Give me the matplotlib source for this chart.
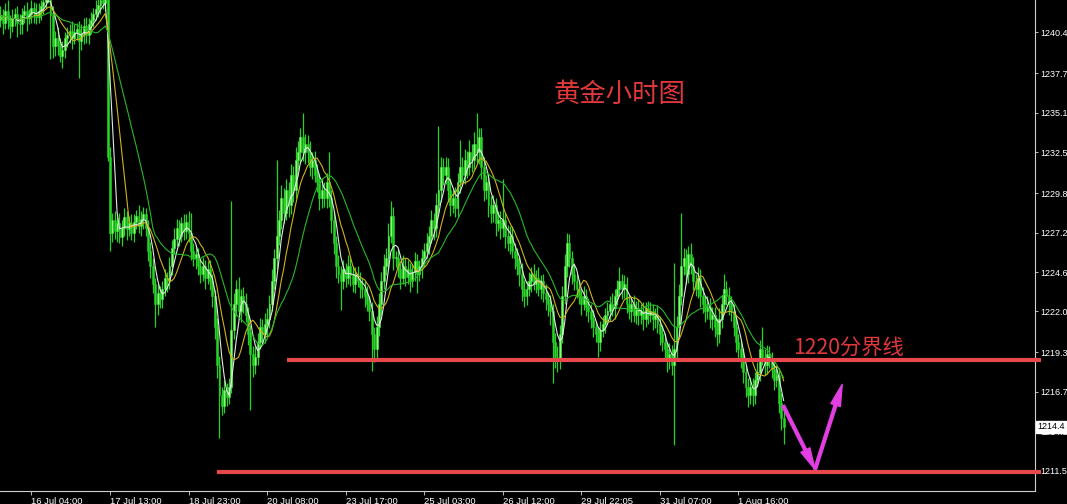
import numpy as np
import pandas as pd
import matplotlib
matplotlib.use("Agg")
import matplotlib.pyplot as plt

# ---------------- data (hourly gold) ----------------
first_open = 1241.2
closes = [
    1241.5, 1241.0, 1241.8, 1241.2, 1240.8, 1241.3, 1241.6, 1241.0, 1240.9,
    1241.5, 1241.8, 1241.3, 1241.6, 1242.0, 1241.7, 1241.4, 1241.8, 1242.1, 1242.4,
    1242.8, 1243.2,
    1241.5, 1239.5, 1240.0,
    1239.5, 1238.8, 1239.2, 1240.0,
    1240.2, 1240.5, 1240.0, 1240.4,
    1240.6, 1239.8, 1240.3,
    1240.8, 1240.2, 1240.9,
    1241.2, 1241.6, 1241.9,
    1242.2, 1242.5, 1242.3, 1242.6,
    1232.2, 1227.2,
    1228.0, 1227.3, 1227.8, 1226.9, 1227.5, 1228.2, 1227.4, 1227.8,
    1227.2, 1227.9, 1228.3, 1227.6, 1228.1, 1228.4, 1227.5,
    1226.0, 1225.0,
    1223.8, 1222.5, 1223.2, 1222.8,
    1223.5, 1224.2, 1224.0,
    1225.0, 1226.2, 1226.8,
    1227.5, 1227.0, 1227.8, 1227.3, 1227.9, 1227.2,
    1226.0, 1225.5, 1225.8, 1225.0,
    1224.5, 1225.0, 1224.2, 1224.8, 1224.0,
    1223.0, 1221.0, 1218.5,
    1216.5, 1215.8, 1216.8,
    1216.4, 1217.0,
    1220.8,
    1222.5, 1223.5, 1222.0, 1223.0, 1222.5, 1221.8, 1220.5,
    1219.2, 1218.5, 1219.0, 1220.0,
    1221.0, 1220.5, 1221.2,
    1221.5, 1222.5, 1224.0,
    1225.5, 1227.0, 1228.0,
    1229.5, 1228.5, 1230.0, 1229.0,
    1231.0, 1230.0, 1232.0, 1232.5,
    1233.5, 1232.5, 1233.0,
    1232.5, 1231.5, 1232.0, 1231.0,
    1230.5, 1229.5, 1230.0, 1229.5,
    1230.5, 1229.5, 1228.0,
    1226.5, 1225.0, 1224.5,
    1224.0, 1224.8, 1224.2, 1225.0, 1224.4, 1223.8, 1224.5, 1224.0, 1223.6,
    1223.5, 1223.0, 1222.5, 1222.0,
    1220.5, 1219.5, 1221.0,
    1222.5, 1224.0, 1225.0,
    1225.5, 1227.0, 1228.3, 1225.5,
    1225.5, 1224.8, 1224.2, 1225.0, 1224.3, 1224.8, 1224.0, 1224.6, 1225.3, 1224.5, 1225.0,
    1225.5, 1226.0, 1226.5,
    1227.0, 1228.0, 1227.5, 1229.0,
    1230.0, 1231.5, 1231.0,
    1231.5, 1230.0, 1229.0, 1229.5, 1228.8,
    1230.5, 1231.5, 1231.0,
    1232.0, 1231.5, 1232.5, 1232.0,
    1233.0, 1232.5, 1233.5,
    1231.5, 1230.0, 1230.5, 1229.0,
    1228.5, 1229.0, 1227.8, 1228.0,
    1227.5, 1228.0, 1227.0, 1226.5, 1227.0,
    1226.0, 1225.5, 1225.0, 1224.5,
    1223.5, 1223.0,
    1223.5, 1224.0, 1224.5, 1223.8, 1224.2, 1223.5, 1224.0, 1223.2,
    1222.8, 1222.5, 1222.0,
    1220.0, 1219.0, 1218.8, 1220.5,
    1223.0, 1225.0, 1226.5,
    1225.5, 1224.5, 1224.0,
    1223.5, 1223.0, 1222.5, 1223.0, 1222.3, 1222.0,
    1221.5, 1221.0, 1220.5, 1220.0, 1220.8, 1221.2, 1221.8,
    1222.0, 1222.5, 1222.2, 1223.0,
    1223.5, 1224.0, 1223.5, 1223.8,
    1222.5, 1222.0, 1222.5, 1221.8, 1222.2, 1221.8,
    1222.0, 1221.5, 1222.2, 1221.8, 1222.0, 1221.5, 1221.8,
    1221.2, 1220.5, 1220.0,
    1219.5, 1218.8, 1219.2, 1218.5,
    1219.5,
    1221.0, 1223.0, 1225.0,
    1225.5, 1224.5, 1225.8, 1225.0,
    1224.0, 1223.5, 1224.2, 1223.0,
    1222.5, 1222.0, 1222.3, 1221.5, 1221.8,
    1221.0, 1220.5, 1221.5,
    1222.5, 1223.5, 1223.0, 1222.5, 1222.0,
    1221.0, 1220.0, 1219.5, 1219.0,
    1218.0, 1217.0, 1216.5, 1217.0,
    1216.5, 1217.5, 1218.0,
    1219.5, 1219.0, 1218.5, 1219.2, 1218.8,
    1218.2, 1217.5, 1217.8,
    1216.0, 1215.0, 1214.4,
]
upper_wick = [
    0.6, 0.4, 0.5, 0.7, 0.3, 0.6, 0.4, 0.5, 0.6,
    0.5, 0.4, 0.6, 0.3, 0.5, 0.4, 0.6, 0.5, 0.4, 0.5,
    0.5, 0.6,
    0.4, 0.6, 0.5,
    0.7, 0.5, 0.6, 0.4,
    0.5, 0.4, 0.6, 0.5,
    0.4, 0.5, 0.6,
    0.5, 0.6, 0.4,
    0.5, 0.4, 0.6,
    0.6, 0.5, 0.7, 0.4,
    0.4, 0.6,
    0.5, 0.6, 0.4, 0.7, 0.5, 0.6, 0.4, 0.5,
    0.6, 0.5, 0.4, 0.7, 0.5, 0.5, 0.4,
    0.5, 0.6,
    0.5, 0.4, 0.6, 0.5,
    0.5, 0.6, 0.4,
    0.6, 0.5, 0.7,
    0.6, 0.5, 0.4, 0.6, 0.5, 0.7,
    1.3, 0.5, 0.6, 0.4,
    0.5, 0.6, 0.4, 0.5, 0.6,
    0.5, 0.4, 0.6,
    0.6, 0.5, 0.7,
    0.5, 0.6,
    8.5,
    0.7, 0.6, 0.8, 0.5, 0.6, 0.7, 0.5,
    0.6, 0.5, 0.7, 0.6,
    0.6, 0.5, 0.7,
    0.7, 0.6, 0.8,
    0.6, 5.0, 0.7,
    0.8, 0.6, 0.7, 0.5,
    0.7, 0.6, 0.8, 0.7,
    0.6, 1.6, 0.7,
    0.6, 0.7, 0.5, 0.6,
    0.7, 0.6, 0.8, 0.5,
    0.6, 2.0, 0.5,
    0.6, 0.5, 0.7,
    0.5, 0.6, 0.4, 0.7, 0.5, 0.6, 0.4, 0.5, 0.6,
    0.6, 0.5, 0.7, 0.5,
    0.6, 0.5, 0.7,
    0.7, 0.6, 0.8,
    0.7, 0.8, 1.0, 0.6,
    0.5, 0.6, 0.4, 0.7, 0.5, 0.6, 0.4, 0.5, 0.6, 0.5, 0.4,
    0.6, 0.5, 0.7,
    0.6, 0.7, 0.5, 0.8,
    4.2, 0.7, 0.6,
    0.7, 0.6, 0.8, 0.5, 0.7,
    0.6, 1.8, 0.7,
    0.7, 0.6, 0.8, 0.5,
    0.8, 2.1, 0.6,
    0.6, 0.7, 0.5, 0.6,
    0.6, 0.7, 0.5, 0.6,
    0.6, 2.7, 0.5, 0.7, 0.6,
    0.6, 0.5, 0.7, 0.6,
    0.7, 0.6,
    0.5, 0.6, 0.4, 0.6, 0.5, 0.7, 0.4, 0.5,
    0.6, 0.5, 0.6,
    0.5, 0.6, 0.7, 0.6,
    0.7, 0.8, 0.7,
    0.6, 0.5, 0.7,
    0.5, 0.6, 0.4, 0.7, 0.5, 0.6,
    0.5, 0.6, 0.4, 0.5, 0.6, 0.5, 0.4,
    0.6, 0.5, 0.7, 0.5,
    0.6, 0.9, 0.5, 0.6,
    0.5, 0.6, 0.4, 0.6, 0.5, 0.6,
    0.5, 0.6, 0.4, 0.5, 0.6, 0.5, 0.4,
    0.6, 0.5, 0.6,
    0.6, 0.5, 0.7, 0.6,
    5.7,
    0.7, 0.8, 3.5,
    0.7, 0.6, 0.5, 0.7,
    0.6, 0.5, 0.7, 0.6,
    0.6, 0.5, 0.7, 0.6, 0.5,
    0.5, 0.6, 0.7,
    0.6, 1.0, 0.5, 0.6, 0.5,
    0.5, 0.6, 0.5, 0.6,
    0.6, 0.5, 0.6, 0.7,
    0.6, 0.5, 0.7,
    0.6, 1.5, 0.5, 0.6, 0.5,
    0.5, 0.6, 0.5,
    0.5, 0.6, 0.5,
]
lower_wick = [
    0.5, 0.7, 0.4, 0.6, 0.8, 0.4, 0.5, 0.9, 0.6,
    0.6, 0.5, 0.8, 0.4, 0.6, 0.7, 0.5, 0.4, 0.6, 0.5,
    0.4, 0.5,
    2.9, 0.8, 0.7,
    0.6, 0.4, 0.8, 0.5,
    0.6, 0.5, 0.7, 0.4,
    0.5, 2.4, 0.6,
    0.7, 0.5, 0.6,
    0.6, 0.5, 0.4,
    0.5, 0.6, 0.4, 0.5,
    0.3, 1.2,
    0.6, 0.5, 0.7, 0.4, 0.6, 0.5, 0.7, 0.4,
    0.5, 0.6, 0.5, 0.4, 0.6, 0.7, 0.5,
    0.7, 0.8,
    0.6, 1.5, 0.7, 0.6,
    0.6, 0.5, 0.7,
    0.5, 0.6, 0.4,
    0.5, 0.7, 0.4, 0.6, 0.5, 0.6,
    0.6, 0.5, 0.7, 0.6,
    0.6, 0.5, 0.7, 0.4, 0.6,
    0.7, 0.8, 0.9,
    2.8, 0.6, 0.5,
    0.6, 0.5,
    0.4,
    0.6, 0.8, 0.5, 0.7, 0.6, 0.5, 0.7,
    3.7, 0.8, 0.6, 0.5,
    0.5, 0.7, 0.6,
    0.8, 0.6, 0.5,
    0.5, 0.7, 0.6,
    0.6, 0.7, 0.5, 0.8,
    0.6, 0.8, 0.5, 0.7,
    0.7, 0.6, 0.8,
    0.7, 0.6, 0.8, 0.5,
    0.6, 0.8, 0.7, 0.6,
    0.7, 0.6, 0.8,
    0.7, 0.8, 0.6,
    1.9, 0.5, 0.6, 0.4, 0.7, 0.5, 0.6, 0.4, 0.7,
    0.6, 0.7, 0.5, 0.6,
    2.4, 0.8, 0.6,
    0.6, 0.7, 0.5,
    0.6, 0.7, 0.5, 0.8,
    0.6, 0.5, 0.7, 0.4, 0.6, 0.5, 0.7, 0.4, 0.6, 1.3, 0.5,
    0.8, 0.6, 0.5,
    0.7, 0.5, 0.8, 0.6,
    0.5, 0.8, 0.7,
    0.6, 0.8, 0.7, 0.5, 0.6,
    0.6, 0.7, 0.5,
    0.6, 0.7, 0.5, 0.8,
    0.6, 0.7, 0.8,
    0.8, 0.7, 0.6, 0.8,
    0.7, 0.6, 0.8, 0.5,
    0.7, 0.6, 0.8, 0.5, 0.7,
    0.5, 0.7, 0.6, 0.8,
    0.8, 0.7,
    0.6, 0.5, 0.7, 0.4, 0.6, 0.5, 0.7, 0.6,
    0.7, 0.8, 0.9,
    2.7, 0.7, 0.8, 0.6,
    0.6, 0.5, 0.7,
    0.6, 0.7, 0.6,
    0.6, 0.5, 0.7, 0.4, 0.6, 0.7,
    0.6, 0.7, 0.5, 1.0, 0.6, 0.5, 0.6,
    0.5, 0.6, 0.5, 0.7,
    0.6, 0.5, 0.7, 0.6,
    0.6, 0.5, 0.7, 0.5, 0.6, 0.7,
    0.6, 0.7, 0.5, 0.6, 0.5, 0.7, 0.6,
    0.6, 0.7, 0.6,
    0.7, 0.8, 0.6, 0.7,
    5.3,
    0.6, 0.7, 0.6,
    0.6, 0.7, 0.6, 0.5,
    0.6, 0.5, 0.6, 0.7,
    0.6, 0.7, 0.5, 0.6, 0.7,
    0.7, 0.8, 0.6,
    0.6, 0.5, 0.6, 0.7, 0.6,
    0.6, 0.7, 0.6, 0.7,
    0.7, 0.6, 0.8, 0.6,
    0.7, 0.6, 0.5,
    0.6, 0.5, 0.7, 0.6, 0.5,
    0.6, 0.7, 0.5,
    0.7, 0.8, 1.1,
]

tick_labels = ["16 Jul 04:00", "17 Jul 13:00", "18 Jul 23:00", "20 Jul 08:00",
               "23 Jul 17:00", "25 Jul 03:00", "26 Jul 12:00", "29 Jul 22:05",
               "31 Jul 07:00", "1 Aug 16:00"]
tick_bars = [13, 46, 79, 112, 145, 178, 211, 244, 277, 310]
price_ticks = [1240.4, 1237.7, 1235.1, 1232.5, 1229.8, 1227.2, 1224.6,
               1222.0, 1219.3, 1216.7, 1214.1, 1211.5]
last_price = 1214.4
ma_periods = [5, 10, 20]

level_upper = 1218.8      # "1220分界线" line
level_lower = 1211.45
upper_start_bar = 120.4
lower_start_bar = 91.0
title_text = "黄金小时图"
level_text = "1220分界线"

# ---------------- derived ----------------
c = np.array(closes)
o = np.concatenate([[first_open], c[:-1]])
hi = np.maximum(o, c) + np.array(upper_wick)
lo = np.minimum(o, c) - np.array(lower_wick)
n = len(c)
x = np.arange(n)

plt.rcParams['font.family'] = ['DejaVu Sans']
fig = plt.figure(figsize=(10.67, 5.04), dpi=100, facecolor='black')
ax = fig.add_axes([0.0, 13 / 504, 1035 / 1067, 491 / 504])
ax.set_facecolor('black')

# candles
up = c >= o
ax.vlines(x, lo, hi, color='#28d028', linewidth=0.9, zorder=2)
body_bottom = np.minimum(o, c)
body_h = np.maximum(np.abs(c - o), 0.08)
ax.bar(x[up], body_h[up], bottom=body_bottom[up], width=0.8,
       color='#86ff72', edgecolor='#45e845', linewidth=0.4, zorder=3)
ax.bar(x[~up], body_h[~up], bottom=body_bottom[~up], width=0.8,
       color='#2ad42a', edgecolor='#22c822', linewidth=0.4, zorder=3)

# moving averages
s = pd.Series(c)
ma_colors = ['#e6e6e6', '#d2b21e', '#25b825']
for per, col in zip(ma_periods, ma_colors):
    ma = s.rolling(per, min_periods=1).mean()
    ax.plot(x, ma, color=col, linewidth=0.8, zorder=4)

# horizontal red levels
red = '#e8484c'
ax.plot([upper_start_bar, 437], [level_upper, level_upper], color=red,
        linewidth=3.0, solid_capstyle='butt', zorder=5, clip_on=False)
ax.plot([lower_start_bar, 437], [level_lower, level_lower], color=red,
        linewidth=3.0, solid_capstyle='butt', zorder=5, clip_on=False)

# arrows
mag = '#e23ee2'
p0 = (328.8, 1215.8)
p1 = (342.2, 1211.6)
p2 = (353.6, 1217.2)
style = 'simple,head_width=0.6,head_length=1.3,tail_width=0.17'
ax.annotate('', xy=p1, xytext=p0,
            arrowprops=dict(arrowstyle=style, color=mag, mutation_scale=12,
                            shrinkA=0, shrinkB=0), zorder=6)
ax.annotate('', xy=p2, xytext=p1,
            arrowprops=dict(arrowstyle=style, color=mag, mutation_scale=12,
                            shrinkA=0, shrinkB=0), zorder=6)

# texts
cjk = ['Noto Sans CJK SC', 'DejaVu Sans']
ax.text(260.0, 1236.3, title_text, color='#e0383c', fontsize=19,
        family=cjk, ha='center', va='center', zorder=7)
ax.text(332.8, 1219.6, level_text, color='#e0383c', fontsize=15.3,
        family=cjk, ha='left', va='center', zorder=7)

# axes limits
ax.set_xlim(-0.2, 434.6)
ax.set_ylim(1210.18, 1242.51)

# spines
for sp in ['top', 'left']:
    ax.spines[sp].set_visible(False)
for sp in ['right', 'bottom']:
    ax.spines[sp].set_color('#d0d0d0')
    ax.spines[sp].set_linewidth(0.8)

tick_font = ['Liberation Sans', 'DejaVu Sans']
ax.yaxis.tick_right()
ax.set_yticks(price_ticks)
ax.set_yticklabels([f"{v:.1f}" for v in price_ticks], family=tick_font)
ax.tick_params(axis='y', colors='#d8d8d8', labelsize=6.5, length=2,
               width=0.6, pad=1.5, labelcolor='white')
ax.set_xticks(tick_bars)
ax.set_xticklabels(tick_labels, ha='left', family=tick_font)
ax.tick_params(axis='x', colors='#d8d8d8', labelsize=6.8, length=3,
               width=0.6, pad=1, labelcolor='white')

ax.annotate(f"{last_price:.1f}", xy=(1.0, last_price),
            xycoords=('axes fraction', 'data'), xytext=(1.5, 0),
            textcoords='offset points', ha='left', va='center',
            fontsize=6.5, family=tick_font, color='black',
            annotation_clip=False, zorder=10,
            bbox=dict(boxstyle='square,pad=0.15', fc='white', ec='white'))

fig.savefig('out.png', dpi=100, facecolor='black')
